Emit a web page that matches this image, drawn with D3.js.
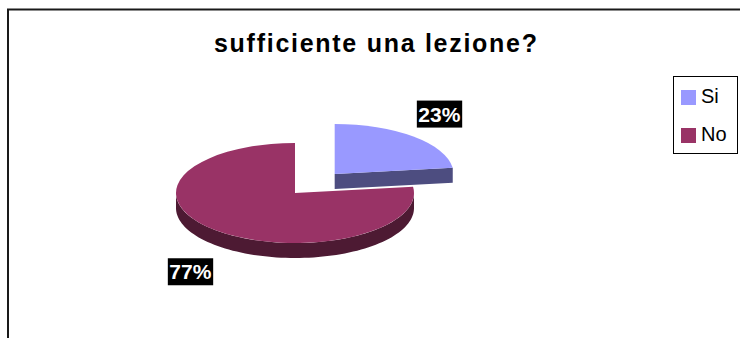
<!DOCTYPE html>
<html>
<head>
<meta charset="utf-8">
<script src="https://cdn.jsdelivr.net/npm/d3@7"></script>
<style>
  html, body { margin: 0; padding: 0; background: #fff; }
  svg { display: block; font-family: "Liberation Sans", Arial, sans-serif; }
</style>
</head>
<body>
<svg id="chart" width="740" height="338"></svg>
<script>
// Survey answers
const title = "sufficiente una lezione?";
const categories = ["Si", "No"];
const values = [23, 77];
const colors = ["#9999FF", "#993366"];
const sideColors = ["#4d4d80", "#4d1a33"];

const W = 740, H = 338;
const svg = d3.select("#chart");

// Outer frame (chart area border)
svg.append("rect")
  .attr("x", 8).attr("y", 9.5)
  .attr("width", W + 20).attr("height", H + 20)
  .attr("fill", "none").attr("stroke", "#1a1a1a").attr("stroke-width", 2);

// Title
svg.append("text")
  .attr("x", 214).attr("y", 52)
  .attr("font-size", 25).attr("font-weight", "bold")
  .attr("textLength", 323).attr("lengthAdjust", "spacing")
  .attr("fill", "#000")
  .text(title);

// 3D pie geometry
const cx = 295, cy = 193;       // centre of the un-exploded pie
const rx = 119, ry = 50;        // ellipse radii of the top face
const depth = 15;               // thickness of the disc
const explode = [60, 0];        // radial offset per slice (in rx units)

const pie = d3.pie().sort(null).startAngle(0).endAngle(2 * Math.PI);
const slices = pie(values).map((d, i) => {
  const mid = (d.startAngle + d.endAngle) / 2;
  const ox = explode[i] * Math.sin(mid);
  const oy = -explode[i] * Math.cos(mid) * (ry / rx);
  return { ...d, i, mid, ox, oy, cx: cx + ox, cy: cy + oy };
});

function pt(s, a, dz = 0) {
  return [s.cx + rx * Math.sin(a), s.cy - ry * Math.cos(a) + dz];
}

const arcTop = d3.arc().innerRadius(0).outerRadius(rx);

// Visible outer rim of a slice (front half of the ellipse only)
function rimPath(s) {
  const a0 = Math.max(s.startAngle, Math.PI / 2);
  const a1 = Math.min(s.endAngle, 3 * Math.PI / 2);
  if (a1 <= a0) return null;
  const p = d3.path();
  const n = 80;
  for (let k = 0; k <= n; k++) {
    const a = a0 + (a1 - a0) * k / n;
    const [x, y] = pt(s, a);
    k === 0 ? p.moveTo(x, y) : p.lineTo(x, y);
  }
  for (let k = n; k >= 0; k--) {
    const a = a0 + (a1 - a0) * k / n;
    const [x, y] = pt(s, a, depth);
    p.lineTo(x, y);
  }
  p.closePath();
  return p.toString();
}

// Radial cut face of a slice
function cutPath(s, a) {
  const [x, y] = pt(s, a);
  const p = d3.path();
  p.moveTo(s.cx, s.cy);
  p.lineTo(x, y);
  p.lineTo(x, y + depth);
  p.lineTo(s.cx, s.cy + depth);
  p.closePath();
  return p.toString();
}
function cutVisible(a, isEnd) {
  // outward normal of the face must point toward the viewer
  const n = isEnd ? a + Math.PI / 2 : a - Math.PI / 2;
  return -Math.cos(n) > 1e-6;
}

const pieG = svg.append("g");
// Back slice (exploded) first, then the front one
const order = slices.slice().sort((a, b) => a.cy - b.cy);
order.forEach(s => {
  const g = pieG.append("g");
  const partial = s.endAngle - s.startAngle < Math.PI * 2 - 1e-6;
  if (partial && cutVisible(s.startAngle, false))
    g.append("path").attr("d", cutPath(s, s.startAngle)).attr("fill", sideColors[s.i]);
  if (partial && cutVisible(s.endAngle, true))
    g.append("path").attr("d", cutPath(s, s.endAngle)).attr("fill", sideColors[s.i]);
  const rp = rimPath(s);
  if (rp) g.append("path").attr("d", rp).attr("fill", sideColors[s.i]);
  g.append("path")
    .attr("transform", `translate(${s.cx},${s.cy}) scale(1,${ry / rx})`)
    .attr("d", arcTop(s))
    .attr("fill", colors[s.i]);
});

// Percentage labels on black boxes
const total = d3.sum(values);
const fmt = d3.format(".0%");
const labelSize = 21;
slices.forEach(s => {
  const lx = s.cx + 1.33 * rx * Math.sin(s.mid);
  const below = Math.cos(s.mid) < 0 ? depth * 1.25 : 0;
  const ly = s.cy - 1.6 * ry * Math.cos(s.mid) + below;
  const g = svg.append("g");
  const t = g.append("text")
    .attr("x", lx).attr("y", ly + labelSize * 0.36)
    .attr("text-anchor", "middle")
    .attr("font-size", labelSize).attr("font-weight", "bold")
    .attr("fill", "#fff")
    .text(fmt(s.data / total));
  const bb = t.node().getBBox();
  g.insert("rect", "text")
    .attr("x", bb.x - 1.5).attr("y", ly - 13.5)
    .attr("width", bb.width + 3).attr("height", 27)
    .attr("fill", "#000");
});

// Legend
const lg = svg.append("g");
lg.append("rect")
  .attr("x", 673.5).attr("y", 76.5).attr("width", 64).attr("height", 77)
  .attr("fill", "#fff").attr("stroke", "#000").attr("stroke-width", 1);
categories.forEach((c, i) => {
  const y0 = 90 + i * 38;
  lg.append("rect").attr("x", 681).attr("y", y0).attr("width", 15).attr("height", 15)
    .attr("fill", colors[i]);
  lg.append("text").attr("x", 701).attr("y", y0 + 12.5)
    .attr("font-size", 20).attr("fill", "#000").text(c);
});
</script>
</body>
</html>
